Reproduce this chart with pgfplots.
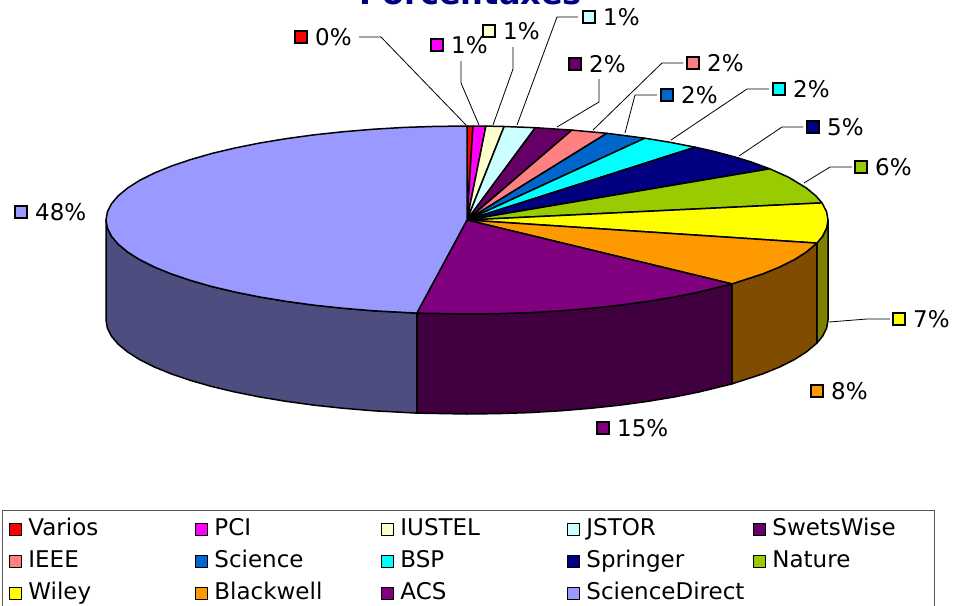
\documentclass[border=0pt]{standalone}
\usepackage{fontspec}
\setmainfont{DejaVu Sans}
\usepackage{pgfplots}
\pgfplotsset{compat=1.18}
\definecolor{cVarios}{HTML}{FF0000}
\definecolor{cPCI}{HTML}{FF00FF}
\definecolor{cIUSTEL}{HTML}{FFFFCC}
\definecolor{cJSTOR}{HTML}{CCFFFF}
\definecolor{cSwets}{HTML}{660066}
\definecolor{cIEEE}{HTML}{FF8080}
\definecolor{cScience}{HTML}{0066CC}
\definecolor{cBSP}{HTML}{00FFFF}
\definecolor{cSpringer}{HTML}{000080}
\definecolor{cNature}{HTML}{99CC00}
\definecolor{cWiley}{HTML}{FFFF00}
\definecolor{cBlackwell}{HTML}{FF9900}
\definecolor{cACS}{HTML}{800080}
\definecolor{cSD}{HTML}{9999FF}
\definecolor{wWiley}{HTML}{808000}
\definecolor{wBlackwell}{HTML}{804C00}
\definecolor{wACS}{HTML}{400040}
\definecolor{wSD}{HTML}{4D4D80}
\pgfplotsset{
  slice/.style={fill=#1,draw=black,line width=1.5pt,line join=round},
  wall/.style={forget plot,fill=#1,draw=black,line width=1.5pt,line join=round},
  leader/.style={forget plot,black,line width=0.8pt},
  lab/.style={forget plot,only marks,mark=square*,mark size=6pt,
    mark options={draw=black,fill=#1,line width=1.3pt},
    point meta=explicit symbolic,nodes near coords,
    nodes near coords style={anchor=west,inner sep=0pt,xshift=13.5pt,
      font=\fontsize{23}{25}\selectfont}},
}
\begin{document}
\begin{tikzpicture}
\begin{axis}[
  name=ax,
  at={(0,0)},anchor=south west,
  scale only axis,width=955pt,height=605pt,
  xmin=0,xmax=955,ymin=0,ymax=605,
  y dir=reverse,
  hide axis,clip=false,
  title={Porcentaxes},
  title style={at={(0.4927,0.982)},anchor=base,inner sep=0pt,
    font=\fontsize{32}{34}\selectfont\bfseries,text=cSpringer},
  legend columns=5,
  legend cell align=left,
  legend image code/.code={
    \draw[#1,line width=1.3pt,line join=round] (6pt,-6pt) rectangle (18pt,6pt);
    \path[draw=none,fill=none] (0pt,0pt) -- (25pt,0pt);
  },
  legend style={at={(0.002,0.157)},anchor=north west,
    draw=gray!70!black,line width=1pt,inner xsep=1pt,inner ysep=8pt,
    font=\fontsize{23}{25}\selectfont,
    nodes={inner sep=0pt,text width=161pt,text height=17pt,text depth=5pt,align=left},
    /tikz/row sep=10pt,/tikz/column sep=0pt},
]
% side walls
\addplot[wall=wWiley] coordinates {(828,220)(826.6,228.2)(822.5,236.3)(816.9,243.1)(816.9,343.1)(822.5,336.3)(826.6,328.2)(828,320)(828,220)};
\addplot[wall=wBlackwell] coordinates {(816.9,243.1)(806.2,252.1)(794.2,259.7)(779.6,267)(762.7,273.9)(731.9,283.9)(731.9,383.9)(762.7,373.9)(779.6,367)(794.2,359.7)(806.2,352.1)(816.9,343.1)(816.9,243.1)};
\addplot[wall=wACS] coordinates {(731.9,283.9)(699,292)(674.1,297)(647.5,301.4)(619.6,305.2)(590.5,308.3)(560.4,310.8)(529.7,312.6)(498.5,313.6)(467,314)(416.8,313.1)(416.8,413.1)(467,414)(498.5,413.6)(529.7,412.6)(560.4,410.8)(590.5,408.3)(619.6,405.2)(647.5,401.4)(674.1,397)(699,392)(731.9,383.9)(731.9,283.9)};
\addplot[wall=wSD] coordinates {(416.8,313.1)(373.6,310.8)(343.5,308.3)(314.4,305.2)(286.5,301.4)(259.9,297)(234.9,292)(211.7,286.5)(190.5,280.4)(171.3,273.9)(154.4,267)(139.8,259.7)(127.8,252.1)(118.3,244.3)(111.5,236.3)(107.4,228.2)(106,220)(106,320)(107.4,328.2)(111.5,336.3)(118.3,344.3)(127.8,352.1)(139.8,359.7)(154.4,367)(171.3,373.9)(190.5,380.4)(211.7,386.5)(234.9,392)(259.9,397)(286.5,401.4)(314.4,405.2)(343.5,408.3)(373.6,410.8)(416.8,413.1)(416.8,313.1)};
% top of the pie, in legend order
\addplot[slice=cVarios] coordinates {(467,220)(467,126)(473,126)(467,220)};
\addlegendentry{Varios}
\addplot[slice=cPCI] coordinates {(467,220)(473,126)(485.9,126.1)(467,220)};
\addlegendentry{PCI}
\addplot[slice=cIUSTEL] coordinates {(467,220)(485.9,126.1)(504.1,126.5)(467,220)};
\addlegendentry{IUSTEL}
\addplot[slice=cJSTOR] coordinates {(467,220)(504.1,126.5)(535.3,127.7)(467,220)};
\addlegendentry{JSTOR}
\addplot[slice=cSwets] coordinates {(467,220)(535.3,127.7)(571.9,130.1)(467,220)};
\addlegendentry{SwetsWise}
\addplot[slice=cIEEE] coordinates {(467,220)(571.9,130.1)(606.9,133.3)(467,220)};
\addlegendentry{IEEE}
\addplot[slice=cScience] coordinates {(467,220)(606.9,133.3)(644.8,138.2)(467,220)};
\addlegendentry{Science}
\addplot[slice=cBSP] coordinates {(467,220)(644.8,138.2)(668.9,142.1)(695.2,147.2)(467,220)};
\addlegendentry{BSP}
\addplot[slice=cSpringer] coordinates {(467,220)(695.2,147.2)(713.2,151.2)(735.3,157.1)(751.5,162.1)(769.8,168.8)(467,220)};
\addlegendentry{Springer}
\addplot[slice=cNature] coordinates {(467,220)(769.8,168.8)(788.7,177.3)(806.2,187.9)(815.7,195.7)(822,202.9)(467,220)};
\addlegendentry{Nature}
\addplot[slice=cWiley] coordinates {(467,220)(822,202.9)(826.6,211.8)(828,220)(826.6,228.2)(822.5,236.3)(816.9,243.1)(467,220)};
\addlegendentry{Wiley}
\addplot[slice=cBlackwell] coordinates {(467,220)(816.9,243.1)(806.2,252.1)(794.2,259.7)(779.6,267)(762.7,273.9)(731.9,283.9)(467,220)};
\addlegendentry{Blackwell}
\addplot[slice=cACS] coordinates {(467,220)(731.9,283.9)(699,292)(674.1,297)(647.5,301.4)(619.6,305.2)(590.5,308.3)(560.4,310.8)(529.7,312.6)(498.5,313.6)(467,314)(416.8,313.1)(467,220)};
\addlegendentry{ACS}
\addplot[slice=cSD] coordinates {(467,220)(416.8,313.1)(373.6,310.8)(343.5,308.3)(314.4,305.2)(286.5,301.4)(259.9,297)(234.9,292)(211.7,286.5)(190.5,280.4)(171.3,273.9)(154.4,267)(139.8,259.7)(127.8,252.1)(118.3,244.3)(111.5,236.3)(107.4,228.2)(106,220)(107.4,211.8)(111.5,203.7)(118.3,195.7)(127.8,187.9)(139.8,180.3)(154.4,173)(171.3,166.1)(190.5,159.6)(211.7,153.5)(234.9,148)(259.9,143)(286.5,138.6)(314.4,134.8)(343.5,131.7)(373.6,129.2)(404.3,127.4)(435.5,126.4)(467,126)(467,220)};
\addlegendentry{ScienceDirect}
% leader lines
\addplot[leader] coordinates {(359,37)(381,37)(466,125)};
\addplot[leader] coordinates {(461,61)(461,83)(479,125)};
\addplot[leader] coordinates {(513,47)(513,69)(493,125)};
\addplot[leader] coordinates {(578,17)(557,17)(517,125)};
\addplot[leader] coordinates {(599,79)(599,102)(557,127)};
\addplot[leader] coordinates {(683,63)(662,63)(593,130)};
\addplot[leader] coordinates {(657,95)(635,95)(625,133)};
\addplot[leader] coordinates {(769,89)(747,89)(671,140)};
\addplot[leader] coordinates {(803,127)(782,127)(739,156)};
\addplot[leader] coordinates {(852,167)(830,167)(804,183)};
\addplot[leader] coordinates {(890,319)(867,319)(829,322)};
% data labels
\addplot[lab=cVarios] coordinates {(301,37)[0\%]};
\addplot[lab=cPCI] coordinates {(437,45)[1\%]};
\addplot[lab=cIUSTEL] coordinates {(489,31)[1\%]};
\addplot[lab=cJSTOR] coordinates {(589,17)[1\%]};
\addplot[lab=cSwets] coordinates {(575,64)[2\%]};
\addplot[lab=cIEEE] coordinates {(693,63)[2\%]};
\addplot[lab=cScience] coordinates {(667,95)[2\%]};
\addplot[lab=cBSP] coordinates {(779,89)[2\%]};
\addplot[lab=cSpringer] coordinates {(813,127)[5\%]};
\addplot[lab=cNature] coordinates {(861,167)[6\%]};
\addplot[lab=cWiley] coordinates {(899,319)[7\%]};
\addplot[lab=cBlackwell] coordinates {(817,391)[8\%]};
\addplot[lab=cACS] coordinates {(603,428)[15\%]};
\addplot[lab=cSD] coordinates {(21,212)[48\%]};
\end{axis}
\pgfresetboundingbox
\path (ax.south west) rectangle (ax.north east);
\end{tikzpicture}
\end{document}
